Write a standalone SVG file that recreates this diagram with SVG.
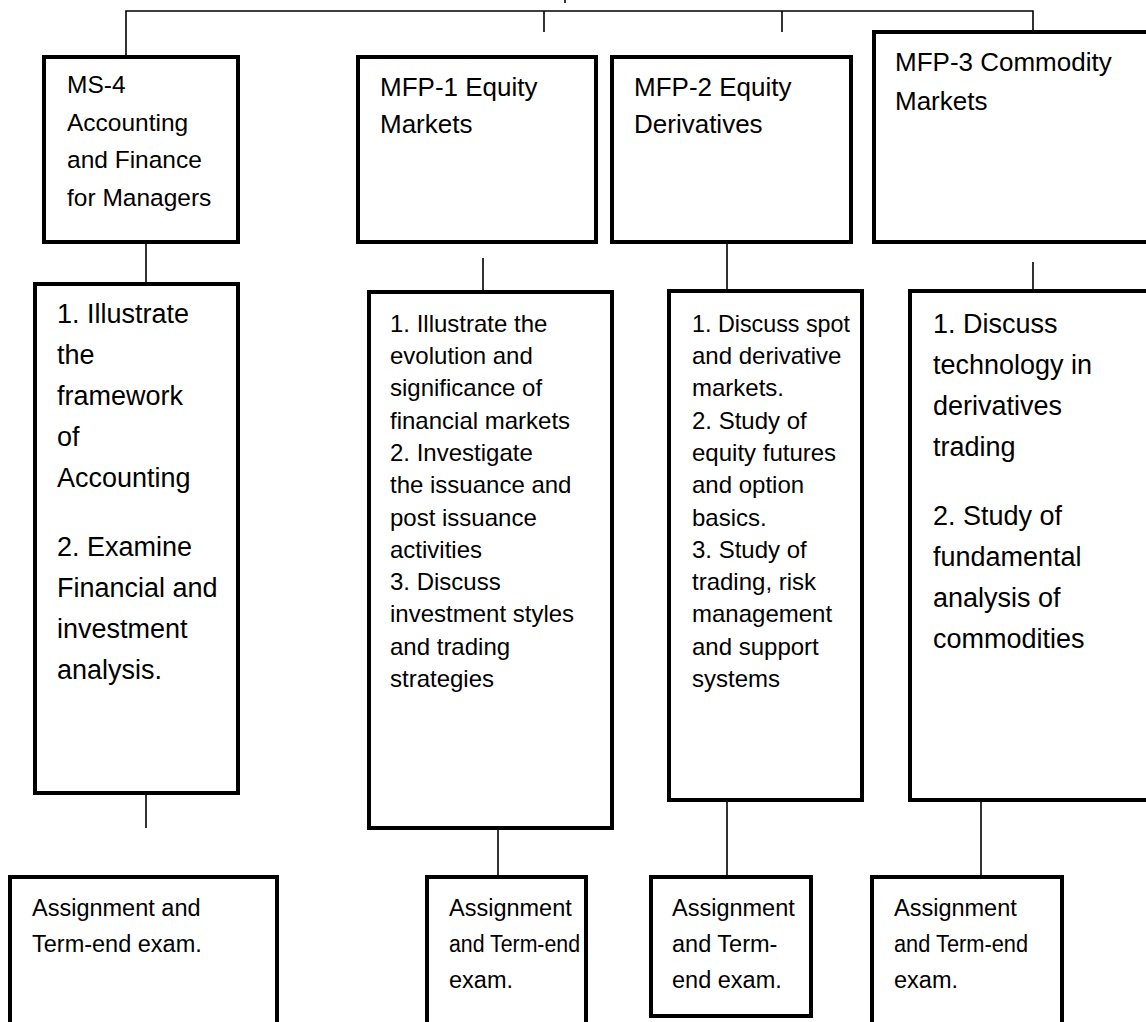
<svg xmlns="http://www.w3.org/2000/svg" width="1146" height="1022" viewBox="0 0 1146 1022">
<style>
.box{fill:#fff;stroke:#000;stroke-width:4}
.c{stroke:#000;stroke-width:1.6;fill:none}
text{font-family:"Liberation Sans",Arial,sans-serif;fill:#000}
.h{font-size:26px}
.h4{font-size:24.5px}
.o27{font-size:27px}
.o24{font-size:24px}
.a{font-size:23.5px}
</style>
<rect width="1146" height="1022" fill="#fff"/>
<g id="connectors">
<path class="c" d="M126 57V11H1033V32M544 11V32M782 11V32"/>
<path class="c" d="M565 0V3" stroke="#999"/>
<path class="c" d="M146 242V284M483 258V292M727 242V291M1033 262V291"/>
<path class="c" d="M146 793V828M498 828V877M727 800V877M981 800V877"/>
</g>
<g id="ms4">
<rect class="box" x="44" y="57" width="194" height="185"/>
<text class="h4" x="67" y="93">MS-4</text>
<text class="h4" x="67" y="130.5">Accounting</text>
<text class="h4" x="67" y="168">and Finance</text>
<text class="h4" x="67" y="205.5">for Managers</text>
</g>
<g id="mfp1">
<rect class="box" x="358" y="57" width="238" height="185"/>
<text class="h" x="380" y="96">MFP-1 Equity</text>
<text class="h" x="380" y="133">Markets</text>
</g>
<g id="mfp2">
<rect class="box" x="612" y="57" width="239" height="185"/>
<text class="h" x="634" y="96">MFP-2 Equity</text>
<text class="h" x="634" y="133">Derivatives</text>
</g>
<g id="mfp3">
<rect class="box" x="874" y="32" width="280" height="210"/>
<text class="h" x="895" y="71">MFP-3 Commodity</text>
<text class="h" x="895" y="110">Markets</text>
</g>
<g id="ms4-obj">
<rect class="box" x="35" y="284" width="203" height="509"/>
<text class="o27" x="57" y="322.5">1. Illustrate</text>
<text class="o27" x="57" y="363.5">the</text>
<text class="o27" x="57" y="404.5">framework</text>
<text class="o27" x="57" y="445.5">of</text>
<text class="o27" x="57" y="486.5">Accounting</text>
<text class="o27" x="57" y="556">2. Examine</text>
<text class="o27" x="57" y="597">Financial and</text>
<text class="o27" x="57" y="638">investment</text>
<text class="o27" x="57" y="679">analysis.</text>
</g>
<g id="mfp1-obj">
<rect class="box" x="369" y="292" width="243" height="536"/>
<text class="o24" x="390" y="331.7">1. Illustrate the</text>
<text class="o24" x="390" y="364">evolution and</text>
<text class="o24" x="390" y="396.3">significance of</text>
<text class="o24" x="390" y="428.6">financial markets</text>
<text class="o24" x="390" y="460.9">2. Investigate</text>
<text class="o24" x="390" y="493.2">the issuance and</text>
<text class="o24" x="390" y="525.5">post issuance</text>
<text class="o24" x="390" y="557.8">activities</text>
<text class="o24" x="390" y="590.1">3. Discuss</text>
<text class="o24" x="390" y="622.4">investment styles</text>
<text class="o24" x="390" y="654.7">and trading</text>
<text class="o24" x="390" y="687">strategies</text>
</g>
<g id="mfp2-obj">
<rect class="box" x="669" y="291" width="193" height="509"/>
<text class="o24" x="692" y="331.7" textLength="158" lengthAdjust="spacingAndGlyphs">1. Discuss spot</text>
<text class="o24" x="692" y="364">and derivative</text>
<text class="o24" x="692" y="396.3">markets.</text>
<text class="o24" x="692" y="428.6">2. Study of</text>
<text class="o24" x="692" y="460.9">equity futures</text>
<text class="o24" x="692" y="493.2">and option</text>
<text class="o24" x="692" y="525.5">basics.</text>
<text class="o24" x="692" y="557.8">3. Study of</text>
<text class="o24" x="692" y="590.1">trading, risk</text>
<text class="o24" x="692" y="622.4">management</text>
<text class="o24" x="692" y="654.7">and support</text>
<text class="o24" x="692" y="687">systems</text>
</g>
<g id="mfp3-obj">
<rect class="box" x="910" y="291" width="244" height="509"/>
<text class="o27" x="933" y="332.5">1. Discuss</text>
<text class="o27" x="933" y="373.5">technology in</text>
<text class="o27" x="933" y="414.5">derivatives</text>
<text class="o27" x="933" y="455.5">trading</text>
<text class="o27" x="933" y="524.5">2. Study of</text>
<text class="o27" x="933" y="565.5">fundamental</text>
<text class="o27" x="933" y="606.5">analysis of</text>
<text class="o27" x="933" y="647.5">commodities</text>
</g>
<g id="ms4-assess">
<rect class="box" x="10" y="877" width="267" height="160"/>
<text class="a" x="32" y="915.5">Assignment and</text>
<text class="a" x="32" y="951.5">Term-end exam.</text>
</g>
<g id="mfp1-assess">
<rect class="box" x="427" y="877" width="159" height="160"/>
<text class="a" x="449" y="915.5">Assignment</text>
<text class="a" x="449" y="951.5" textLength="131" lengthAdjust="spacingAndGlyphs">and Term-end</text>
<text class="a" x="449" y="987.5">exam.</text>
</g>
<g id="mfp2-assess">
<rect class="box" x="651" y="877" width="160" height="139"/>
<text class="a" x="672" y="915.5">Assignment</text>
<text class="a" x="672" y="951.5">and Term-</text>
<text class="a" x="672" y="987.5">end exam.</text>
</g>
<g id="mfp3-assess">
<rect class="box" x="872" y="877" width="190" height="160"/>
<text class="a" x="894" y="915.5">Assignment</text>
<text class="a" x="894" y="951.5" textLength="134" lengthAdjust="spacingAndGlyphs">and Term-end</text>
<text class="a" x="894" y="987.5">exam.</text>
</g>
</svg>
